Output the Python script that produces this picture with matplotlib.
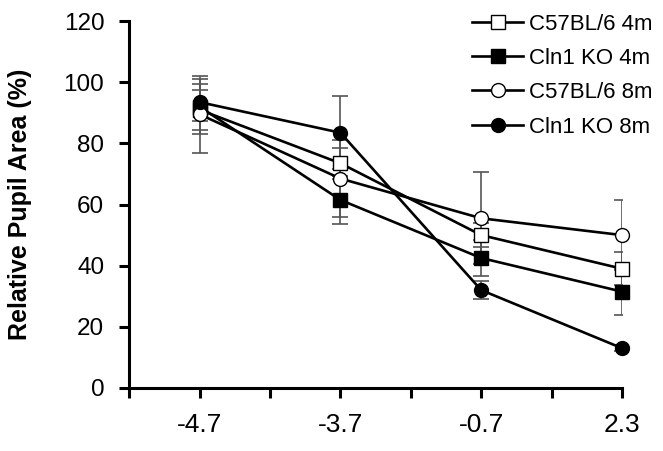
import numpy as np
import matplotlib
matplotlib.use("Agg")
import matplotlib.pyplot as plt

plt.rcParams["font.family"] = ["Liberation Sans", "DejaVu Sans"]

# Data
doses = ["-4.7", "-3.7", "-0.7", "2.3"]
series_names = ["C57BL/6 4m", "Cln1 KO 4m", "C57BL/6 8m", "Cln1 KO 8m"]

wt_4m = [91.0, 73.5, 50.0, 39.0]
wt_4m_err = [6.5, 5.0, 4.0, 5.5]
ko_4m = [92.0, 61.5, 42.5, 31.5]
ko_4m_err = [9.0, 8.0, 6.0, 7.5]
wt_8m = [89.5, 68.5, 55.5, 50.0]
wt_8m_err = [12.5, 12.5, 15.0, 11.5]
ko_8m = [93.5, 83.5, 32.0, 13.0]
ko_8m_err = [6.0, 12.0, 3.0, 1.0]

x = np.arange(1, len(doses) + 1)

fig = plt.figure(figsize=(6.63, 4.51), dpi=100)
ax = fig.add_axes([0.195, 0.140, 0.743, 0.813])

styles = [
    (wt_4m, wt_4m_err, "s", "white"),
    (ko_4m, ko_4m_err, "s", "black"),
    (wt_8m, wt_8m_err, "o", "white"),
    (ko_8m, ko_8m_err, "o", "black"),
]

# error bars first, then lines with markers on top
for vals, err, mk, fc in styles:
    ax.errorbar(x, vals, yerr=err, fmt="none", ecolor="#555555",
                elinewidth=1.2, capsize=6, capthick=1.2, zorder=2)

for (vals, err, mk, fc), name in zip(styles, series_names):
    ax.plot(x, vals, color="black", lw=1.9, marker=mk, markersize=10,
            markerfacecolor=fc, markeredgecolor="black", markeredgewidth=1.0,
            label=name, zorder=3, clip_on=False)

ax.set_xlim(0.5, 4)
ax.set_ylim(0, 120)
ax.set_xticks(np.arange(0.5, 4.01, 0.5))
ax.set_xticklabels(["", doses[0], "", doses[1], "", doses[2], "", doses[3]])
ax.set_yticks(np.arange(0, 121, 20))

for side in ["top", "right"]:
    ax.spines[side].set_visible(False)
for side in ["left", "bottom"]:
    ax.spines[side].set_linewidth(2.2)

ax.tick_params(axis="both", direction="out", length=7, width=2.2,
               colors="black")
ax.tick_params(axis="x", pad=11, labelsize=19)
ax.tick_params(axis="y", pad=11, labelsize=17.5)

ax.set_ylabel("Relative Pupil Area (%)", fontsize=18, fontweight="bold",
              labelpad=23)

ax.legend(loc="upper right", bbox_to_anchor=(1.08, 1.045), frameon=False,
          fontsize=16, handlelength=2.3, handletextpad=0.25,
          labelspacing=0.6, borderaxespad=0)

fig.savefig("out.png", dpi=100)
